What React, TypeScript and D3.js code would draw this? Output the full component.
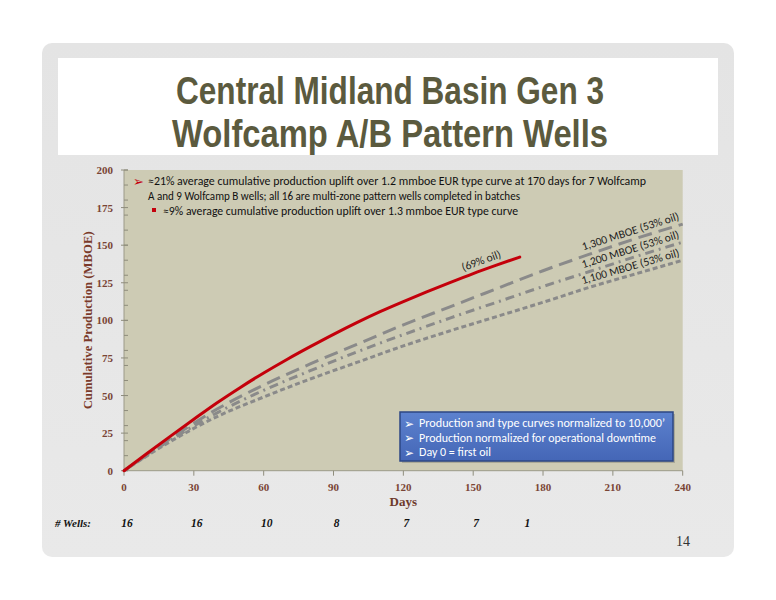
import React from 'react';
import * as d3 from 'd3';

// ---- Data ----
const actualDays = [0, 10, 20, 30, 40, 50, 60, 70, 80, 90, 100, 110, 120, 130, 140, 150, 160, 170];
const actualValues = [0, 11.6, 23, 34.2, 45.2, 55.4, 65, 74, 82.5, 90.7, 98.5, 105.8, 112.5, 118.9, 125.1, 131.1, 136.7, 142.1];

const typeDays = [0, 20, 40, 60, 80, 100, 120, 140, 160, 180, 200, 220, 240];
const type1300 = [0, 21.5, 41, 57, 71, 84, 97, 109, 121, 133, 144, 154.5, 164];
const type1200 = [0, 20.5, 38.5, 53.5, 66.5, 79, 90.5, 101.5, 112, 122.5, 132.5, 142.5, 152];
const type1100 = [0, 19.5, 36, 49, 61, 72, 83, 93, 102.5, 112, 122, 131, 140];

const typeLabels = ['1,300 MBOE (53% oil)', '1,200 MBOE (53% oil)', '1,100 MBOE (53% oil)'];
const actualLabel = '(69% oil)';

const yTicks = [0, 25, 50, 75, 100, 125, 150, 175, 200];
const yMinorTicks = d3.range(0, 201, 10);
const xTicks = [0, 30, 60, 90, 120, 150, 180, 210, 240];

const wellDays = [0, 30, 60, 90, 120, 150, 172];
const wellCounts = ['16', '16', '10', '8', '7', '7', '1'];

const titleLines = ['Central Midland Basin Gen 3', 'Wolfcamp A/B Pattern Wells'];
const noteLines = [
  '\u224821% average cumulative production uplift over 1.2 mmboe EUR type curve at 170 days for 7 Wolfcamp',
  'A and 9 Wolfcamp B wells; all 16 are multi-zone pattern wells completed in batches',
  '\u22489% average cumulative production uplift over 1.3 mmboe EUR type curve',
];
const boxLines = [
  "Production and type curves normalized to 10,000\u2019",
  'Production normalized for operational downtime',
  'Day 0 = first oil',
];

const SANS = "Carlito, Lato, 'Open Sans', sans-serif";
const SERIF = "'Liberation Serif', 'DejaVu Serif', serif";

export default function App() {
  const W = 776;
  const H = 600;
  const x = d3.scaleLinear().domain([0, 240]).range([124, 682.7]);
  const y = d3.scaleLinear().domain([0, 200]).range([470.7, 170]);

  const line = d3
    .line<[number, number]>()
    .x((d) => x(d[0]))
    .y((d) => y(d[1]))
    .curve(d3.curveMonotoneX);

  const actualPts: [number, number][] = actualDays.map((d, i) => [d, actualValues[i]]);
  const typeSeries = [type1300, type1200, type1100].map((vals) =>
    typeDays.map((d, i) => [d, vals[i]] as [number, number])
  );
  const dashes = ['14 7', '9 5 2 5', '5 3'];

  const interp = (days: number[], vals: number[], d: number) => d3.scaleLinear().domain(days).range(vals)(d);
  const angleAt = (days: number[], vals: number[], d0: number, d1: number) => {
    const dx = x(d1) - x(d0);
    const dy = y(interp(days, vals, d1)) - y(interp(days, vals, d0));
    return (Math.atan2(dy, dx) * 180) / Math.PI;
  };

  const x0 = x(0);
  const x1 = x(240);
  const yB = y(0);
  const yT = y(200);

  return (
    <svg
      width={W}
      height={H}
      viewBox={`0 0 ${W} ${H}`}
      style={{ position: 'absolute', left: 0, top: 0, display: 'block', background: '#ffffff' }}
    >
      <defs>
        <linearGradient id="slideBg" x1="0" y1="0" x2="0" y2="1">
          <stop offset="0" stopColor="#e4e4e4" />
          <stop offset="1" stopColor="#e9e9e9" />
        </linearGradient>
        <linearGradient id="boxBg" x1="0" y1="0" x2="0" y2="1">
          <stop offset="0" stopColor="#5d82cf" />
          <stop offset="1" stopColor="#4466b6" />
        </linearGradient>
      </defs>

      {/* slide */}
      <rect x={42} y={43} width={692} height={514} rx={10} fill="url(#slideBg)" />
      <rect x={58} y={58} width={660} height={97} fill="#ffffff" />
      {titleLines.map((t, i) => (
        <text
          key={t}
          x={390}
          y={104 + i * 43}
          textAnchor="middle"
          fontFamily="'Liberation Sans Narrow', 'Arial Narrow', 'Liberation Sans', sans-serif"
          fontWeight="bold"
          fontSize={39}
          fill="#5b5a3e"
          textLength={i === 0 ? 428 : 436}
          lengthAdjust="spacingAndGlyphs"
        >
          {t}
        </text>
      ))}

      {/* plot area */}
      <rect x={x0} y={yT} width={x1 - x0} height={yB - yT} fill="#cdcbb4" />
      <line x1={x0} x2={x0} y1={yT} y2={yB} stroke="#9c9a88" strokeWidth={1} />
      <line x1={x0} x2={x1} y1={yB} y2={yB} stroke="#9c9a88" strokeWidth={1} />
      {yMinorTicks.map((v) => (
        <line key={'ym' + v} x1={x0} x2={x0 + 4} y1={y(v)} y2={y(v)} stroke="#8f8d7c" strokeWidth={1} />
      ))}
      {yTicks.map((v) => (
        <line key={'yt' + v} x1={x0 - 3} x2={x0 + 4} y1={y(v)} y2={y(v)} stroke="#8f8d7c" strokeWidth={1} />
      ))}
      {xTicks.map((v) => (
        <line key={'xt' + v} x1={x(v)} x2={x(v)} y1={yB} y2={yB + 5} stroke="#8f8d7c" strokeWidth={1} />
      ))}

      {/* tick labels */}
      {yTicks.map((v) => (
        <text
          key={'yl' + v}
          x={113}
          y={y(v) + 4}
          textAnchor="end"
          fontFamily={SERIF}
          fontWeight="bold"
          fontSize={11}
          fill="#7a4535"
        >
          {v}
        </text>
      ))}
      {xTicks.map((v) => (
        <text
          key={'xl' + v}
          x={x(v)}
          y={491}
          textAnchor="middle"
          fontFamily={SERIF}
          fontWeight="bold"
          fontSize={11}
          fill="#7a4535"
        >
          {v}
        </text>
      ))}
      <text
        x={x(120)}
        y={506}
        textAnchor="middle"
        fontFamily={SERIF}
        fontWeight="bold"
        fontSize={13}
        fill="#6e3a2c"
      >
        Days
      </text>
      <text
        transform={`translate(92,${(yT + yB) / 2}) rotate(-90)`}
        textAnchor="middle"
        fontFamily={SERIF}
        fontWeight="bold"
        fontSize={13}
        fill="#7a3a2a"
        textLength={178}
        lengthAdjust="spacingAndGlyphs"
      >
        Cumulative Production (MBOE)
      </text>

      {/* type curves */}
      {typeSeries.map((pts, i) => (
        <path
          key={'tc' + i}
          d={line(pts) || ''}
          fill="none"
          stroke="#8a8a8a"
          strokeWidth={3}
          strokeDasharray={dashes[i]}
        />
      ))}
      {/* actual */}
      <path d={line(actualPts) || ''} fill="none" stroke="#c4000b" strokeWidth={3} strokeLinecap="round" />

      {/* curve labels */}
      {[type1300, type1200, type1100].map((vals, i) => {
        const d = 218;
        const ang = angleAt(typeDays, vals, 200, 240);
        const px = x(d);
        const py = y(interp(typeDays, vals, d)) - 5;
        return (
          <text
            key={'lab' + i}
            transform={`translate(${px},${py}) rotate(${ang})`}
            textAnchor="middle"
            fontFamily={SANS}
            fontSize={11.5}
            fill="#1e1e1e"
          >
            {typeLabels[i]}
          </text>
        );
      })}
      {(() => {
        const d = 154;
        const ang = angleAt(actualDays, actualValues, 140, 170);
        return (
          <text
            transform={`translate(${x(d)},${y(interp(actualDays, actualValues, d)) - 6}) rotate(${ang})`}
            textAnchor="middle"
            fontFamily={SANS}
            fontSize={11.5}
            fill="#1e1e1e"
          >
            {actualLabel}
          </text>
        );
      })()}

      {/* top notes */}
      <text x={133} y={186} fontFamily="'DejaVu Sans', sans-serif" fontSize={13} fill="#c4000b">
        {'\u27A2'}
      </text>
      <text x={148} y={185} fontFamily={SANS} fontSize={11.5} fill="#111" textLength={498} lengthAdjust="spacingAndGlyphs">
        {noteLines[0]}
      </text>
      <text x={148} y={200} fontFamily={SANS} fontSize={11.5} fill="#111" textLength={372} lengthAdjust="spacingAndGlyphs">
        {noteLines[1]}
      </text>
      <rect x={152} y={208} width={4} height={4} fill="#c4000b" />
      <text x={163} y={215} fontFamily={SANS} fontSize={11.5} fill="#111" textLength={355} lengthAdjust="spacingAndGlyphs">
        {noteLines[2]}
      </text>

      {/* blue box */}
      <rect x={402} y={414} width={273} height={49} fill="#6b6b60" opacity={0.35} />
      <rect x={400} y={412} width={273} height={49} fill="url(#boxBg)" stroke="#2c4784" strokeWidth={1.5} />
      {boxLines.map((t, i) => (
        <g key={'bl' + i}>
          <text x={404} y={427.5 + i * 14.5} fontFamily="'DejaVu Sans', sans-serif" fontSize={12} fill="#ffffff">
            {'\u27A2'}
          </text>
          <text
            x={419}
            y={427 + i * 14.5}
            fontFamily={SANS}
            fontSize={12}
            fill="#ffffff"
            textLength={[246, 237, 72][i]}
            lengthAdjust="spacingAndGlyphs"
          >
            {t}
          </text>
        </g>
      ))}

      {/* wells row */}
      <text x={55} y={527} fontFamily={SERIF} fontWeight="bold" fontStyle="italic" fontSize={11} fill="#111">
        # Wells:
      </text>
      {wellDays.map((d, i) => (
        <text
          key={'w' + i}
          x={x(d) + 3}
          y={527}
          textAnchor="middle"
          fontFamily={SERIF}
          fontWeight="bold"
          fontStyle="italic"
          fontSize={11.5}
          fill="#111"
        >
          {wellCounts[i]}
        </text>
      ))}

      <text x={683} y={546} textAnchor="middle" fontFamily={SERIF} fontSize={14} fill="#333">
        14
      </text>
    </svg>
  );
}
